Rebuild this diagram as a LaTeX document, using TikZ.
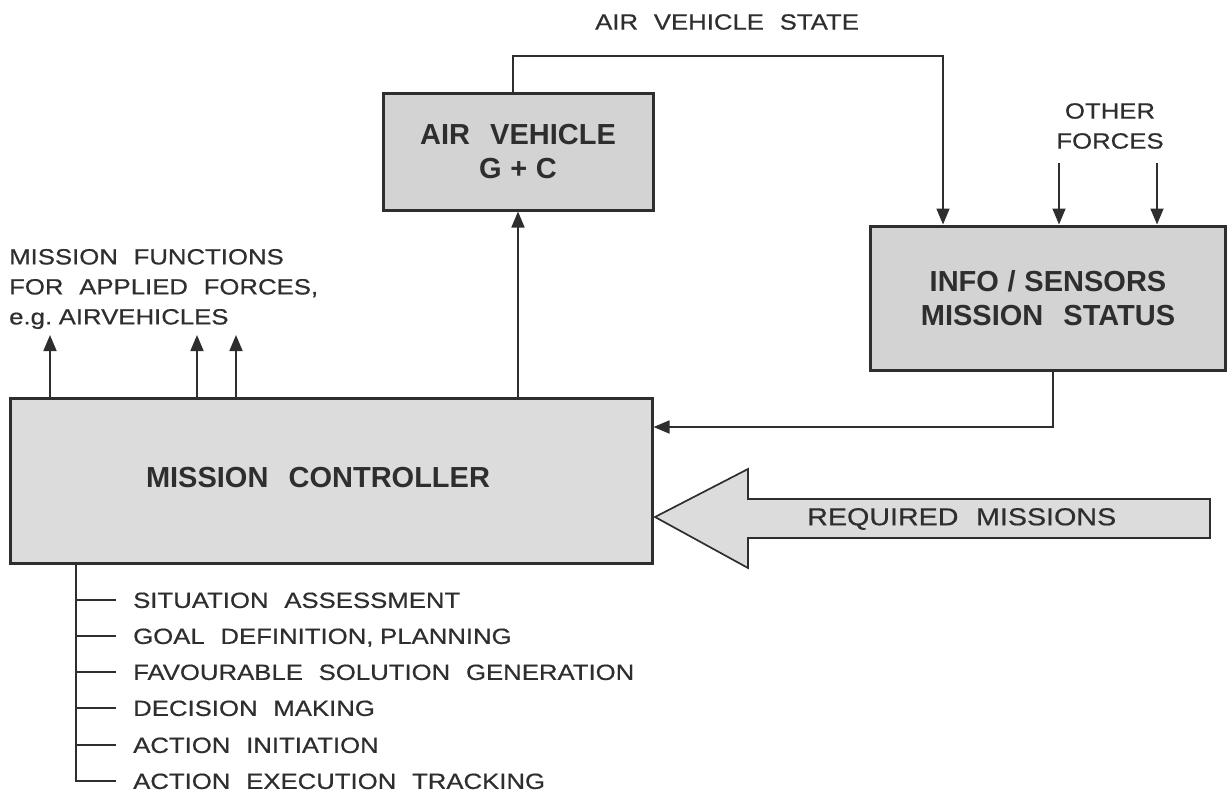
\documentclass[tikz,border=0pt]{standalone}
\usepackage{fontspec}
\setmainfont{Liberation Sans}[FakeStretch=1.17,WordSpace=2.2,FakeBold=0.6]
\newfontfamily\bfam{Liberation Sans}[WordSpace=2.5]
\usetikzlibrary{arrows.meta}
\definecolor{ink}{HTML}{2E2E2E}
\definecolor{fillA}{HTML}{D3D3D3}
\definecolor{fillB}{HTML}{DCDCDC}
\newcommand\nsp{\hspace{0.3em}}
\tikzset{
  box/.style={draw=ink, line width=3pt, fill=fillA, inner sep=0pt, text=ink, align=center,
    font=\bfam\bfseries\fontsize{29}{34}\selectfont},
  boxtext/.style={inner sep=0pt, text=ink, font=\bfam\bfseries\fontsize{29}{34}\selectfont},
  arr/.style={draw=ink, line width=1.7pt, -{Triangle[length=16pt,width=13pt]}},
  wire/.style={draw=ink, line width=1.7pt},
  txt/.style={text=ink, inner sep=0pt, font=\fontsize{22}{30}\selectfont},
  item/.style={txt, anchor=west, text height=15.8pt, text depth=0pt},
  bigarrow/.style={draw=ink, line width=1.7pt, fill=fillB, line join=miter}
}
\begin{document}
\begin{tikzpicture}[x=1pt,y=-1pt]
\useasboundingbox (0,0) rectangle (1228,797);

% boxes
\node[box, minimum width=270pt, minimum height=116pt] (av) at (518,152) {AIR VEHICLE\\G\nsp+\nsp C};
\node[box, minimum width=355pt, minimum height=144pt] (info) at (1048,298) {INFO\nsp/\nsp SENSORS\\MISSION STATUS};
\node[box, fill=fillB, minimum width=642pt, minimum height=165pt] (mc) at (331,480.5) {};
\node[boxtext] (mclabel) at (318,478) {MISSION CONTROLLER};

% top loop
\node[txt, anchor=west] (avs) at (595,22) {AIR VEHICLE STATE};
\coordinate (tr) at (943,56);
\draw[arr] ([xshift=-5pt]av.north) |- (tr) -- (info.north -| tr);
\draw[arr] (mc.north -| av.south) -- (av.south);

% other forces
\node[txt, align=center] (of) at (1110,126) {OTHER\\FORCES};
\coordinate (o1) at (1059,163);
\coordinate (o2) at (1157,163);
\draw[arr] (o1) -- (info.north -| o1);
\draw[arr] (o2) -- (info.north -| o2);

% info to mission controller
\draw[arr] ([xshift=5pt]info.south) |- ([yshift=53.5pt]mc.east);

% mission functions
\node[txt, align=left, anchor=west] (mf) at (9,289) {MISSION FUNCTIONS\\FOR APPLIED FORCES,\\e.g.\nsp AIRVEHICLES};
\coordinate (f1) at (50,335);
\coordinate (f2) at (197,335);
\coordinate (f3) at (236,335);
\draw[arr] (mc.north -| f1) -- (f1);
\draw[arr] (mc.north -| f2) -- (f2);
\draw[arr] (mc.north -| f3) -- (f3);

% required missions block arrow
\draw[bigarrow] (655,517) -- (748,469) -- (748,499) -- (1210,499) -- (1210,538) -- (748,538) -- (748,568) -- cycle;
\node[txt, font=\fontsize{24.5}{28}\selectfont, anchor=west] (rm) at (807,519) {REQUIRED MISSIONS};

% function list
\node[item] (l1) at (133,600) {SITUATION ASSESSMENT};
\node[item] (l2) at (133,636) {GOAL DEFINITION,\nsp PLANNING};
\node[item] (l3) at (133,672) {FAVOURABLE SOLUTION GENERATION};
\node[item] (l4) at (133,708) {DECISION MAKING};
\node[item] (l5) at (133,745) {ACTION INITIATION};
\node[item] (l6) at (133,781) {ACTION EXECUTION TRACKING};
\coordinate (trunk) at (76,781);
\draw[wire, line join=miter] (mc.south -| trunk) -- (l6.west -| trunk) -- ([xshift=-17pt]l6.west);
\foreach \n in {l1,l2,l3,l4,l5}
  \draw[wire] (\n.west -| trunk) -- ([xshift=-17pt]\n.west);
\end{tikzpicture}
\end{document}
